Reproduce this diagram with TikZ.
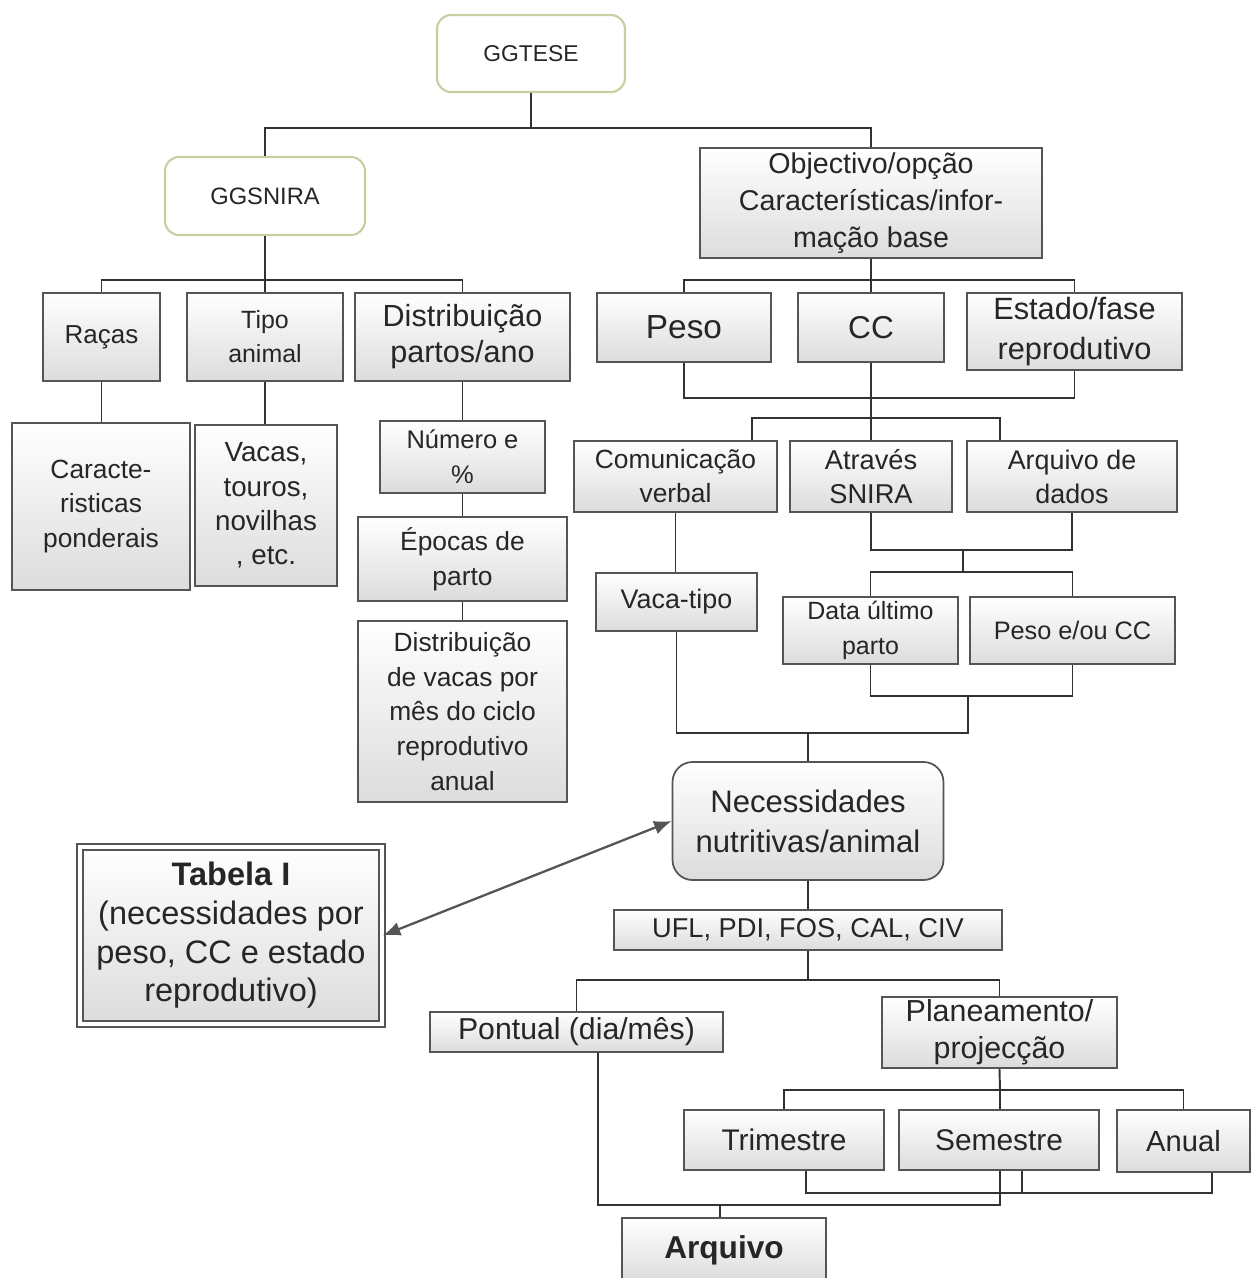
\documentclass[tikz,border=0pt]{standalone}
\usepackage{fontspec}
\setmainfont{Liberation Sans}
\usetikzlibrary{arrows.meta,calc}
\definecolor{ln}{HTML}{333333}
\definecolor{bd}{HTML}{555555}
\definecolor{tx}{HTML}{262626}
\definecolor{gb}{HTML}{C9CFA0}
\definecolor{ar}{HTML}{555555}
\definecolor{gbot}{HTML}{DCDCDC}
\newcommand{\myfs}[2]{\fontsize{#1}{#2}\selectfont}
\begin{document}
\begin{tikzpicture}[x=0.02cm,y=-0.02cm,
  box/.style={draw=bd, line width=1pt, top color=white, bottom color=gbot, text=tx, align=center, inner sep=0pt},
  rbox/.style={draw=gb, line width=1.2pt, fill=white, rounded corners=0.28cm, text=tx, align=center, inner sep=0pt},
  nbox/.style={box, rounded corners=0.4cm},
  conn/.style={draw=ln, line width=1.1pt},
]
\path[use as bounding box, clip] (0,0) rectangle (1253,1278);
\fill[white] (0,0) rectangle (1253,1278);

% nodes
\node[rbox, minimum width=3.76cm, minimum height=1.54cm, font=\myfs{13}{16}] (tese) at (531,53.5) {GGTESE};
\node[rbox, minimum width=4.0cm, minimum height=1.56cm, font=\myfs{13.5}{16}] (snira) at (265,196) {GGSNIRA};
\node[box, minimum width=6.84cm, minimum height=2.2cm, font=\myfs{16.3}{21}] (obj) at (871,203) {Objectivo/opção\\Características/infor-\\mação base};

\node[box, minimum width=2.34cm, minimum height=1.76cm, font=\myfs{14.8}{19}] (racas) at (101.5,337) {Raças};
\node[box, minimum width=3.12cm, minimum height=1.76cm, font=\myfs{14.2}{19.3}] (tipo) at (265,337) {Tipo\\animal};
\node[box, minimum width=4.3cm, minimum height=1.76cm, font=\myfs{17.4}{20.4}] (distr) at (462.5,337) {Distribuição\\partos/ano};

\node[box, minimum width=3.56cm, minimum height=3.34cm, font=\myfs{15}{19.8}] (carac) at (101,506.5) {Caracte-\\risticas\\ponderais};
\node[box, minimum width=2.84cm, minimum height=3.22cm, font=\myfs{15.8}{19.6}] (vacas) at (266,505.5) {Vacas,\\touros,\\novilhas\\, etc.};
\node[box, minimum width=3.3cm, minimum height=1.44cm, font=\myfs{14.5}{19.8}] (num) at (462.5,457) {Número e\\\%};
\node[box, minimum width=4.18cm, minimum height=1.68cm, font=\myfs{15}{19.8}] (epo) at (462.5,559) {Épocas de\\parto};
\node[box, minimum width=4.18cm, minimum height=3.62cm, font=\myfs{15}{19.8}] (dvac) at (462.5,711.5) {Distribuição\\de vacas por\\mês do ciclo\\reprodutivo\\anual};

\node[box, minimum width=3.48cm, minimum height=1.38cm, font=\myfs{19}{22}] (peso) at (684,327.5) {Peso};
\node[box, minimum width=2.92cm, minimum height=1.38cm, font=\myfs{18}{22}] (cc) at (871,327.5) {CC};
\node[box, minimum width=4.3cm, minimum height=1.54cm, font=\myfs{17.5}{22.5}] (est) at (1074.5,331.5) {Estado/fase\\reprodutivo};

\node[box, minimum width=4.06cm, minimum height=1.42cm, font=\myfs{15}{19.3}] (com) at (675.5,476.5) {Comunicação\\verbal};
\node[box, minimum width=3.24cm, minimum height=1.42cm, font=\myfs{15.5}{19.3}] (atr) at (871,476.5) {Através\\SNIRA};
\node[box, minimum width=4.2cm, minimum height=1.42cm, font=\myfs{15.3}{19.3}] (ard) at (1072,476.5) {Arquivo de\\dados};

\node[box, minimum width=3.22cm, minimum height=1.16cm, font=\myfs{15.3}{19}] (vaca) at (676.5,602) {Vaca-tipo};
\node[box, minimum width=3.5cm, minimum height=1.34cm, font=\myfs{14.2}{19.8}] (data) at (870.5,630.5) {Data último\\parto};
\node[box, minimum width=4.1cm, minimum height=1.34cm, font=\myfs{14.4}{19}] (pcc) at (1072.5,630.5) {Peso e/ou CC};

\node[nbox, minimum width=5.42cm, minimum height=2.36cm, font=\myfs{17.7}{22.7}] (nec) at (808,821) {Necessidades\\nutritivas/animal};
\node[box, double=white, double distance=2.4pt, line width=0.9pt, minimum width=6.04cm, minimum height=3.54cm, font=\myfs{18.5}{22}] (tab) at (231,935.5) {\textbf{Tabela I}\\(necessidades por\\peso, CC e estado\\reprodutivo)};

\node[box, minimum width=7.76cm, minimum height=0.8cm, font=\myfs{15.5}{19}] (ufl) at (808,930) {UFL, PDI, FOS, CAL, CIV};
\node[box, minimum width=5.86cm, minimum height=0.8cm, font=\myfs{17.2}{20}] (pont) at (576.5,1032) {Pontual (dia/mês)};
\node[box, minimum width=4.7cm, minimum height=1.42cm, font=\myfs{17.3}{21}] (plan) at (999.5,1032.5) {Planeamento/\\projecção};

\node[box, minimum width=4.0cm, minimum height=1.2cm, font=\myfs{17}{20}] (tri) at (784,1140) {Trimestre};
\node[box, minimum width=4.0cm, minimum height=1.2cm, font=\myfs{17}{20}] (sem) at (999,1140) {Semestre};
\node[box, minimum width=2.66cm, minimum height=1.24cm, font=\myfs{16.6}{20}] (anu) at (1183.5,1141) {Anual};
\node[box, minimum width=4.08cm, minimum height=1.28cm, font=\myfs{18}{20}\bfseries] (arq) at (724,1250) {Arquivo};

% connectors
\coordinate (j1) at (531,128);
\draw[conn] (tese.south) -- (j1);
\draw[conn] (snira.north) |- (j1) -| (obj.north);

\coordinate (j2) at (265,280);
\draw[conn] (snira.south) -- (j2);
\draw[conn] (racas.north) |- (j2) -| (distr.north);
\draw[conn] (j2) -- (tipo.north);
\draw[conn] (racas.south) -- (racas.south |- carac.north);
\draw[conn] (tipo.south) -- (tipo.south |- vacas.north);
\draw[conn] (distr.south) -- (num.north);
\draw[conn] (num.south) -- (epo.north);
\draw[conn] (epo.south) -- (dvac.north);

\coordinate (j3) at (871,280);
\draw[conn] (obj.south) -- (cc.north);
\draw[conn] (peso.north) |- (j3) -| (est.north);
\draw[conn] (peso.south) -- ++(0,35) -| (est.south);

\coordinate (k1) at (752,418);
\coordinate (k2) at (1000,418);
\draw[conn] (cc.south) -- (atr.north);
\draw[conn] (k1 |- com.north) -- (k1) -- (k2) -- (k2 |- ard.north);
\draw[conn] (com.south) -- (com.south |- vaca.north);

\draw[conn] (atr.south) -- ++(0,37) -| (ard.south);
\coordinate (j5) at (963,549);
\coordinate (j6) at (963,572);
\draw[conn] (j5) -- (j6);
\draw[conn] (data.north) |- (j6) -| (pcc.north);

\draw[conn] (data.south) -- ++(0,31) -| (pcc.south);
\coordinate (j7) at (968,695);
\coordinate (j8) at (968,733);
\coordinate (j9) at (808,733);
\draw[conn] (vaca.south) |- (j8) -- (j7);
\draw[conn] (j9) -- (nec.north);

\draw[conn] (nec.south) -- (ufl.north);
\coordinate (j10) at (808,980);
\draw[conn] (ufl.south) -- (j10);
\draw[conn] (pont.north) |- (j10) -| (plan.north);

\coordinate (j11) at (1000,1090);
\draw[conn] (plan.south) -- (j11) -- (j11 |- sem.north);
\draw[conn] (tri.north) |- (j11) -| (anu.north);

\coordinate (m1) at (806,1193);
\coordinate (m2) at (1212,1193);
\coordinate (m3) at (1022,1193);
\draw[conn] (m1 |- tri.south) -- (m1) -- (m2) -- (m2 |- anu.south);
\draw[conn] (m3 |- sem.south) -- (m3);

\coordinate (p1) at (598,1205);
\coordinate (p2) at (1000,1205);
\coordinate (p3) at (720,1205);
\draw[conn] (p1 |- pont.south) -- (p1) -- (p2) -- (p2 |- sem.south);
\draw[conn] (p3) -- (p3 |- arq.north);

\draw[draw=ar, line width=1.3pt, {Latex[length=10pt,width=8pt]}-{Latex[length=10pt,width=8pt]}] (tab.east) -- (nec.west);
\end{tikzpicture}
\end{document}
